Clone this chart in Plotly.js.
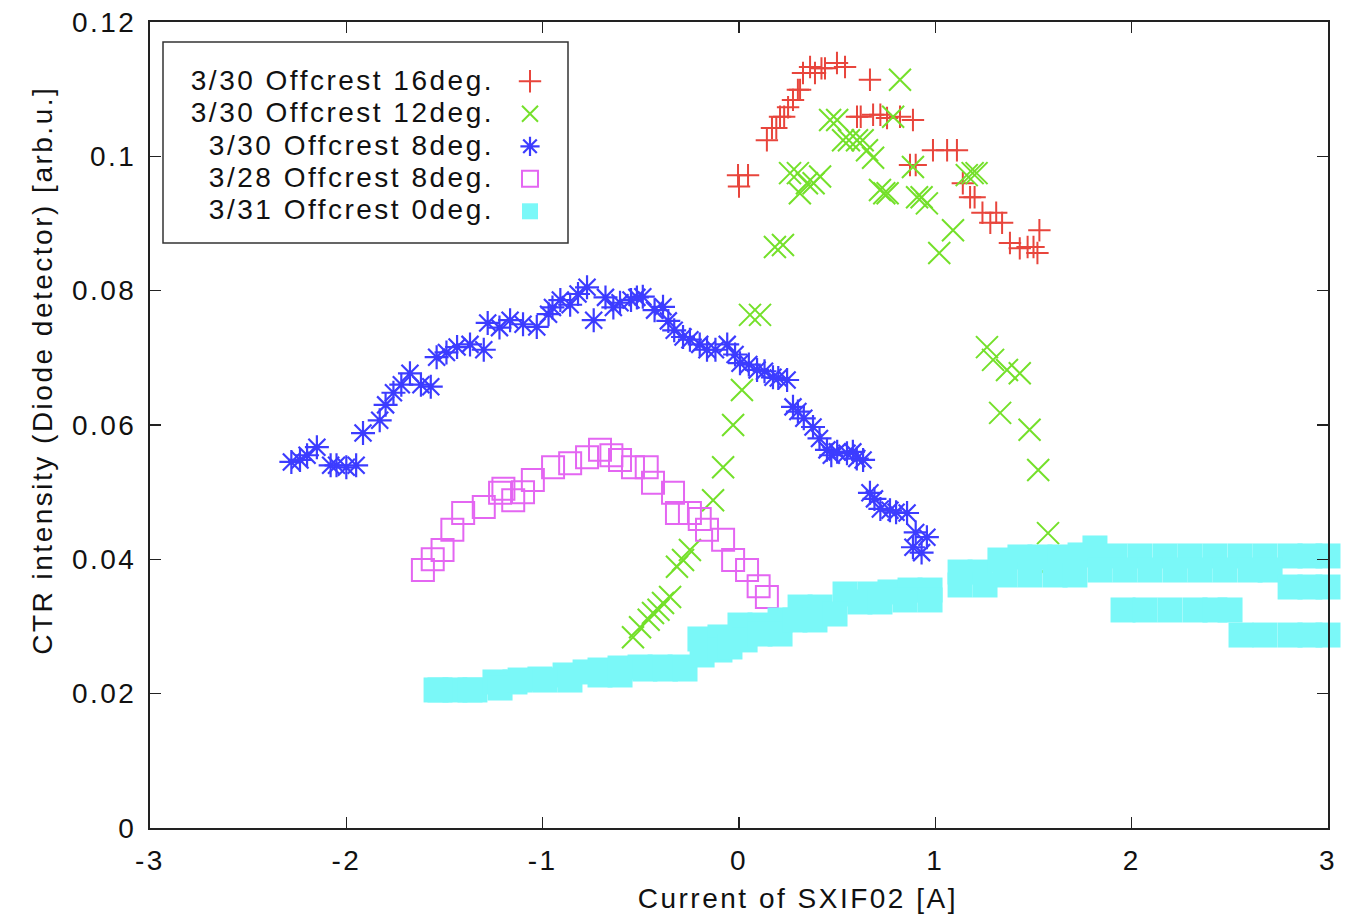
<!DOCTYPE html>
<html><head><meta charset="utf-8">
<script src="https://cdn.plot.ly/plotly-3.0.1.min.js"></script>
<style>
html,body{margin:0;padding:0;background:#fff;}
#chart{width:1347px;height:919px;}
#chart text{letter-spacing:2.5px;}
</style></head><body><div id="chart"></div><script>
const seriesNames = ['3/30 Offcrest 16deg.', '3/30 Offcrest 12deg.', '3/30 Offcrest 8deg.', '3/28 Offcrest 8deg.', '3/31 Offcrest 0deg.'];
const xTickVals = [-3, -2, -1, 0, 1, 2, 3];
const xTickText = ['-3', '-2', '-1', '0', '1', '2', '3'];
const yTickVals = [0, 0.02, 0.04, 0.06, 0.08, 0.1, 0.12];
const yTickText = ['0', '0.02', '0.04', '0.06', '0.08', '0.1', '0.12'];
const xTitle = 'Current of SXIF02 [A]';
const yTitle = 'CTR intensity (Diode detector) [arb.u.]';

const red16X = [-0.005, 0.046, 0.0, 0.142, 0.168, 0.19, 0.209, 0.23, 0.25, 0.275, 0.3, 0.311, 0.326, 0.362, 0.387, 0.42, 0.438, 0.499, 0.540, 0.667, 0.601, 0.62, 0.683, 0.72, 0.754, 0.82, 0.886, 0.871, 0.9, 0.988, 1.06, 1.11, 1.14, 1.177, 1.2, 1.24, 1.31, 1.28, 1.34, 1.38, 1.43, 1.47, 1.50, 1.53, 1.52];
const red16Y = [0.0972, 0.0972, 0.0955, 0.1024, 0.1042, 0.1042, 0.1059, 0.1059, 0.1073, 0.1084, 0.1099, 0.1099, 0.1124, 0.1133, 0.1124, 0.1131, 0.1131, 0.1139, 0.1133, 0.1114, 0.1059, 0.1059, 0.1062, 0.1062, 0.1057, 0.1059, 0.1054, 0.0987, 0.0987, 0.1009, 0.1009, 0.1009, 0.096, 0.0939, 0.0939, 0.0916, 0.0916, 0.0901, 0.0901, 0.0871, 0.0863, 0.0865, 0.0865, 0.089, 0.0856];

const green12X = [-0.54, -0.504, -0.46, -0.438, -0.41, -0.387, -0.351, -0.316, -0.285, -0.25, -0.132, -0.081, -0.03, 0.015, 0.056, 0.107, 0.183, 0.224, 0.26, 0.3, 0.346, 0.38, 0.413, 0.31, 0.464, 0.5, 0.530, 0.56, 0.601, 0.63, 0.652, 0.683, 0.82, 0.785, 0.718, 0.74, 0.757, 0.907, 0.93, 0.957, 0.886, 1.21, 1.19, 1.16, 1.09, 1.02, 1.263, 1.294, 1.365, 1.43, 1.33, 1.48, 1.524, 1.574, 1.57];
const green12Y = [0.0284, 0.0299, 0.031, 0.0320, 0.0325, 0.0335, 0.0344, 0.0389, 0.0399, 0.0414, 0.0488, 0.0537, 0.060, 0.0652, 0.0764, 0.0764, 0.0865, 0.0868, 0.0975, 0.0975, 0.096, 0.096, 0.097, 0.0945, 0.1054, 0.1054, 0.1024, 0.1024, 0.1024, 0.1024, 0.1009, 0.0998, 0.1114, 0.1059, 0.095, 0.0945, 0.0945, 0.0939, 0.0939, 0.093, 0.0984, 0.0975, 0.0975, 0.0972, 0.089, 0.0856, 0.0716, 0.0697, 0.0682, 0.0677, 0.0618, 0.0593, 0.0533, 0.0439, 0.0389];

const blue8X = [-2.28, -2.236, -2.2, -2.15, -2.08, -2.05, -2.0, -1.95, -1.915, -1.83, -1.8, -1.76, -1.72, -1.676, -1.62, -1.57, -1.54, -1.49, -1.436, -1.37, -1.30, -1.28, -1.22, -1.166, -1.1, -1.03, -0.97, -0.95, -0.91, -0.86, -0.82, -0.774, -0.74, -0.68, -0.64, -0.606, -0.55, -0.52, -0.49, -0.43, -0.387, -0.36, -0.33, -0.285, -0.25, -0.2, -0.163, -0.12, -0.06, -0.02, 0.005, 0.05, 0.092, 0.13, 0.173, 0.2, 0.245, 0.275, 0.3, 0.33, 0.377, 0.41, 0.448, 0.47, 0.5, 0.55, 0.58, 0.6, 0.632, 0.667, 0.69, 0.72, 0.769, 0.8, 0.856, 0.886, 0.9, 0.93, 0.957];
const blue8Y = [0.0545, 0.0548, 0.0555, 0.0567, 0.054, 0.054, 0.0537, 0.054, 0.0588, 0.0607, 0.063, 0.0648, 0.066, 0.0677, 0.066, 0.0657, 0.0701, 0.0708, 0.0716, 0.072, 0.0712, 0.0752, 0.0745, 0.0756, 0.075, 0.0746, 0.0765, 0.0775, 0.0786, 0.0779, 0.0795, 0.0805, 0.0756, 0.079, 0.0775, 0.0782, 0.0786, 0.079, 0.0791, 0.0771, 0.0776, 0.0755, 0.0741, 0.0731, 0.0727, 0.072, 0.0712, 0.0712, 0.072, 0.0705, 0.0692, 0.069, 0.0682, 0.068, 0.0671, 0.067, 0.0667, 0.0627, 0.062, 0.061, 0.0597, 0.058, 0.0563, 0.0555, 0.056, 0.0558, 0.056, 0.055, 0.0548, 0.0499, 0.049, 0.0475, 0.0473, 0.047, 0.0469, 0.0418, 0.044, 0.041, 0.0433];

const mag8X = [-1.61, -1.56, -1.51, -1.46, -1.405, -1.30, -1.2, -1.217, -1.15, -1.1, -1.05, -0.947, -0.86, -0.774, -0.708, -0.65, -0.606, -0.54, -0.47, -0.438, -0.336, -0.316, -0.25, -0.2, -0.163, -0.081, -0.03, 0.041, 0.1, 0.142];
const mag8Y = [0.0384, 0.040, 0.0414, 0.0444, 0.0469, 0.0478, 0.0505, 0.0499, 0.0488, 0.05, 0.0518, 0.0537, 0.0543, 0.0552, 0.0563, 0.0555, 0.0548, 0.0537, 0.0537, 0.0514, 0.0499, 0.0469, 0.0469, 0.046, 0.0444, 0.0429, 0.0399, 0.0384, 0.036, 0.0344];

const cyan0X = [-1.543, -1.447, -1.345, -1.243, -1.141, -1.014, -0.886, -0.784, -0.708, -0.606, -0.504, -0.402, -0.300, -0.199, -0.097, 0.005, 0.107, 0.209, 0.311, 0.413, 0.540, 0.667, 0.769, 0.871, 0.973, 1.126, 1.228, 1.329, 1.431, 1.533, 1.635, 1.737, 1.813, 1.915, 2.042, 2.170, 2.297, 2.424, 2.552, 2.679, 2.807, 2.908, 3.0,
  -1.523, -1.370, -1.217, -1.115, -0.988, -0.861, -0.708, -0.606, -0.479, -0.375, -0.275, -0.188, -0.097, -0.046, 0.031, 0.107, 0.209, 0.285, 0.387, 0.489, 0.616, 0.718, 0.846, 0.973, 1.126, 1.253, 1.355, 1.482, 1.610, 1.711, 1.839, 1.966, 2.093, 2.221, 2.348, 2.475, 2.603, 2.705, 2.807, 2.908, 3.0,
  1.956, 2.068, 2.195, 2.323, 2.424, 2.501,
  2.557, 2.679, 2.807, 2.908, 3.0];
const cyan0Y = [0.02055, 0.02055, 0.02055, 0.02174, 0.02174, 0.02218, 0.02278, 0.02323, 0.02352, 0.02382, 0.02397, 0.02397, 0.02397, 0.02814, 0.02844, 0.03022, 0.03022, 0.03097, 0.0329, 0.0329, 0.03484, 0.03484, 0.03514, 0.03543, 0.03543, 0.03811, 0.03811, 0.0399, 0.04035, 0.04035, 0.04035, 0.04065, 0.04169, 0.0405, 0.0405, 0.0405, 0.0405, 0.0405, 0.0405, 0.0405, 0.0405, 0.0405, 0.0405,
  0.02055, 0.02055, 0.02084, 0.02203, 0.02203, 0.02203, 0.02278, 0.02278, 0.02367, 0.02367, 0.02367, 0.02576, 0.0265, 0.02695, 0.028, 0.02888, 0.02888, 0.03097, 0.03097, 0.03186, 0.03365, 0.03365, 0.03395, 0.03395, 0.03618, 0.03618, 0.03767, 0.03767, 0.03767, 0.03767, 0.03841, 0.03841, 0.03841, 0.03841, 0.03841, 0.03841, 0.03841, 0.03841, 0.03588, 0.03588, 0.03588,
  0.03246, 0.03246, 0.03246, 0.03246, 0.03246, 0.03246,
  0.02873, 0.02873, 0.02873, 0.02873, 0.02873];

const seriesX = [red16X, green12X, blue8X, mag8X, cyan0X];
const seriesY = [red16Y, green12Y, blue8Y, mag8Y, cyan0Y];
const styles = [
  {symbol: 'cross-thin-open', size: 16, color: '#e8453c', lw: 2},
  {symbol: 'x-thin-open', size: 22, color: '#74e02a', lw: 2},
  {symbol: 'asterisk-open', size: 20, color: '#3c3cff', lw: 2.2},
  {symbol: 'square-open', size: 22, color: '#e466f2', lw: 2},
  {symbol: 'square', size: 25, color: '#7af8f8', lw: 0}
];

const traces = seriesX.map((xs, i) => ({
  type: 'scatter', mode: 'markers', x: xs, y: seriesY[i], name: '',
  hovertext: seriesNames[i], showlegend: true,
  cliponaxis: i === 4 ? false : true,
  marker: {symbol: styles[i].symbol, size: styles[i].size, color: styles[i].color,
           line: {width: styles[i].lw, color: styles[i].color}}
}));

// layout helpers (plot area in px)
const L = 150, R = 1328, T = 22, B = 828;
const px = v => (v - L) / (R - L);
const py = v => (B - v) / (B - T);

const annotations = seriesNames.map((n, i) => ({
  text: n, xref: 'paper', yref: 'paper', x: px(496), y: py(80 + i * 32.5),
  xanchor: 'right', yanchor: 'middle', align: 'right', width: 330,
  showarrow: false, font: {size: 28, color: '#111'}
}));
annotations.push({text: xTitle, xref: 'paper', yref: 'paper', x: px(798), y: py(898),
  xanchor: 'center', yanchor: 'middle', showarrow: false, font: {size: 28, color: '#111'}});
annotations.push({text: yTitle, xref: 'paper', yref: 'paper', x: px(42), y: py(370),
  xanchor: 'center', yanchor: 'middle', textangle: -90, showarrow: false, font: {size: 28, color: '#111'}});

const axisCommon = {
  ticks: 'inside', ticklen: 11, tickwidth: 1.5, tickcolor: '#222',
  showline: true, linewidth: 2, linecolor: '#222', mirror: 'ticks',
  showgrid: false, zeroline: false, tickfont: {size: 28, color: '#111'}, tickmode: 'array'
};

const layout = {
  width: 1347, height: 919,
  margin: {l: 150, r: 19, t: 22, b: 91, pad: 0},
  paper_bgcolor: '#fff', plot_bgcolor: '#fff',
  font: {family: '"Liberation Sans", Arial, Helvetica, sans-serif', size: 28, color: '#111'},
  showlegend: true,
  legend: {x: px(510), y: py(60), xanchor: 'left', yanchor: 'top', bgcolor: 'rgba(0,0,0,0)',
           borderwidth: 0, font: {size: 22.7}, itemwidth: 30, tracegroupgap: 0},
  xaxis: Object.assign({}, axisCommon, {range: [-3, 3], tickvals: xTickVals, ticktext: xTickText, ticklabelstandoff: 6}),
  yaxis: Object.assign({}, axisCommon, {range: [0, 0.12], tickvals: yTickVals, ticktext: yTickText, ticklabelstandoff: 6}),
  annotations: annotations,
  shapes: [{type: 'rect', xref: 'paper', yref: 'paper', x0: px(163), x1: px(568), y0: py(243), y1: py(42),
            line: {color: '#333', width: 1.5}, fillcolor: 'rgba(0,0,0,0)'}]
};

Plotly.newPlot('chart', traces, layout, {staticPlot: true, displayModeBar: false});
</script></body></html>
